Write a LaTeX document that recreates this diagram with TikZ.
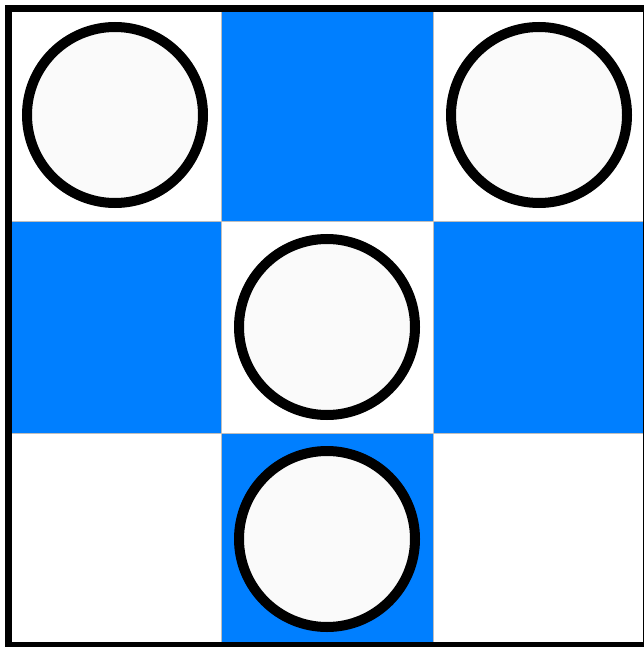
\documentclass[tikz,border=0pt]{standalone}
\definecolor{cellblue}{RGB}{0,127,255}
\definecolor{discfill}{RGB}{250,250,250}
\definecolor{gridgray}{RGB}{190,190,190}
\begin{document}
\begin{tikzpicture}[x=1pt,y=-1pt,
  cellbox/.style={draw=gridgray,line width=0.8pt},
  disc/.style={circle,draw=black,fill=discfill,line width=10pt,minimum size=176pt,inner sep=0pt}]
\useasboundingbox (0,0) rectangle (644,647);
\fill[white] (0,0) rectangle (644,647);
% cells
\foreach \c in {0,1,2}{
  \foreach \r in {0,1,2}{
    \pgfmathtruncatemacro{\s}{mod(\c+\r,2)}
    \ifnum\s=1
      \filldraw[cellbox,fill=cellblue] ({9+212*\c},{9+212*\r}) rectangle ({9+212*(\c+1)},{9+212*(\r+1)});
    \else
      \filldraw[cellbox,fill=white] ({9+212*\c},{9+212*\r}) rectangle ({9+212*(\c+1)},{9+212*(\r+1)});
    \fi
  }}
% frame
\draw[black,line width=7pt] (8.5,8.5) rectangle (646.5,645);
% discs
\node[disc] (d1) at (115,115) {};
\node[disc] (d2) at (539,115) {};
\node[disc] (d3) at (327,327) {};
\node[disc] (d4) at (327,539) {};
\end{tikzpicture}
\end{document}
